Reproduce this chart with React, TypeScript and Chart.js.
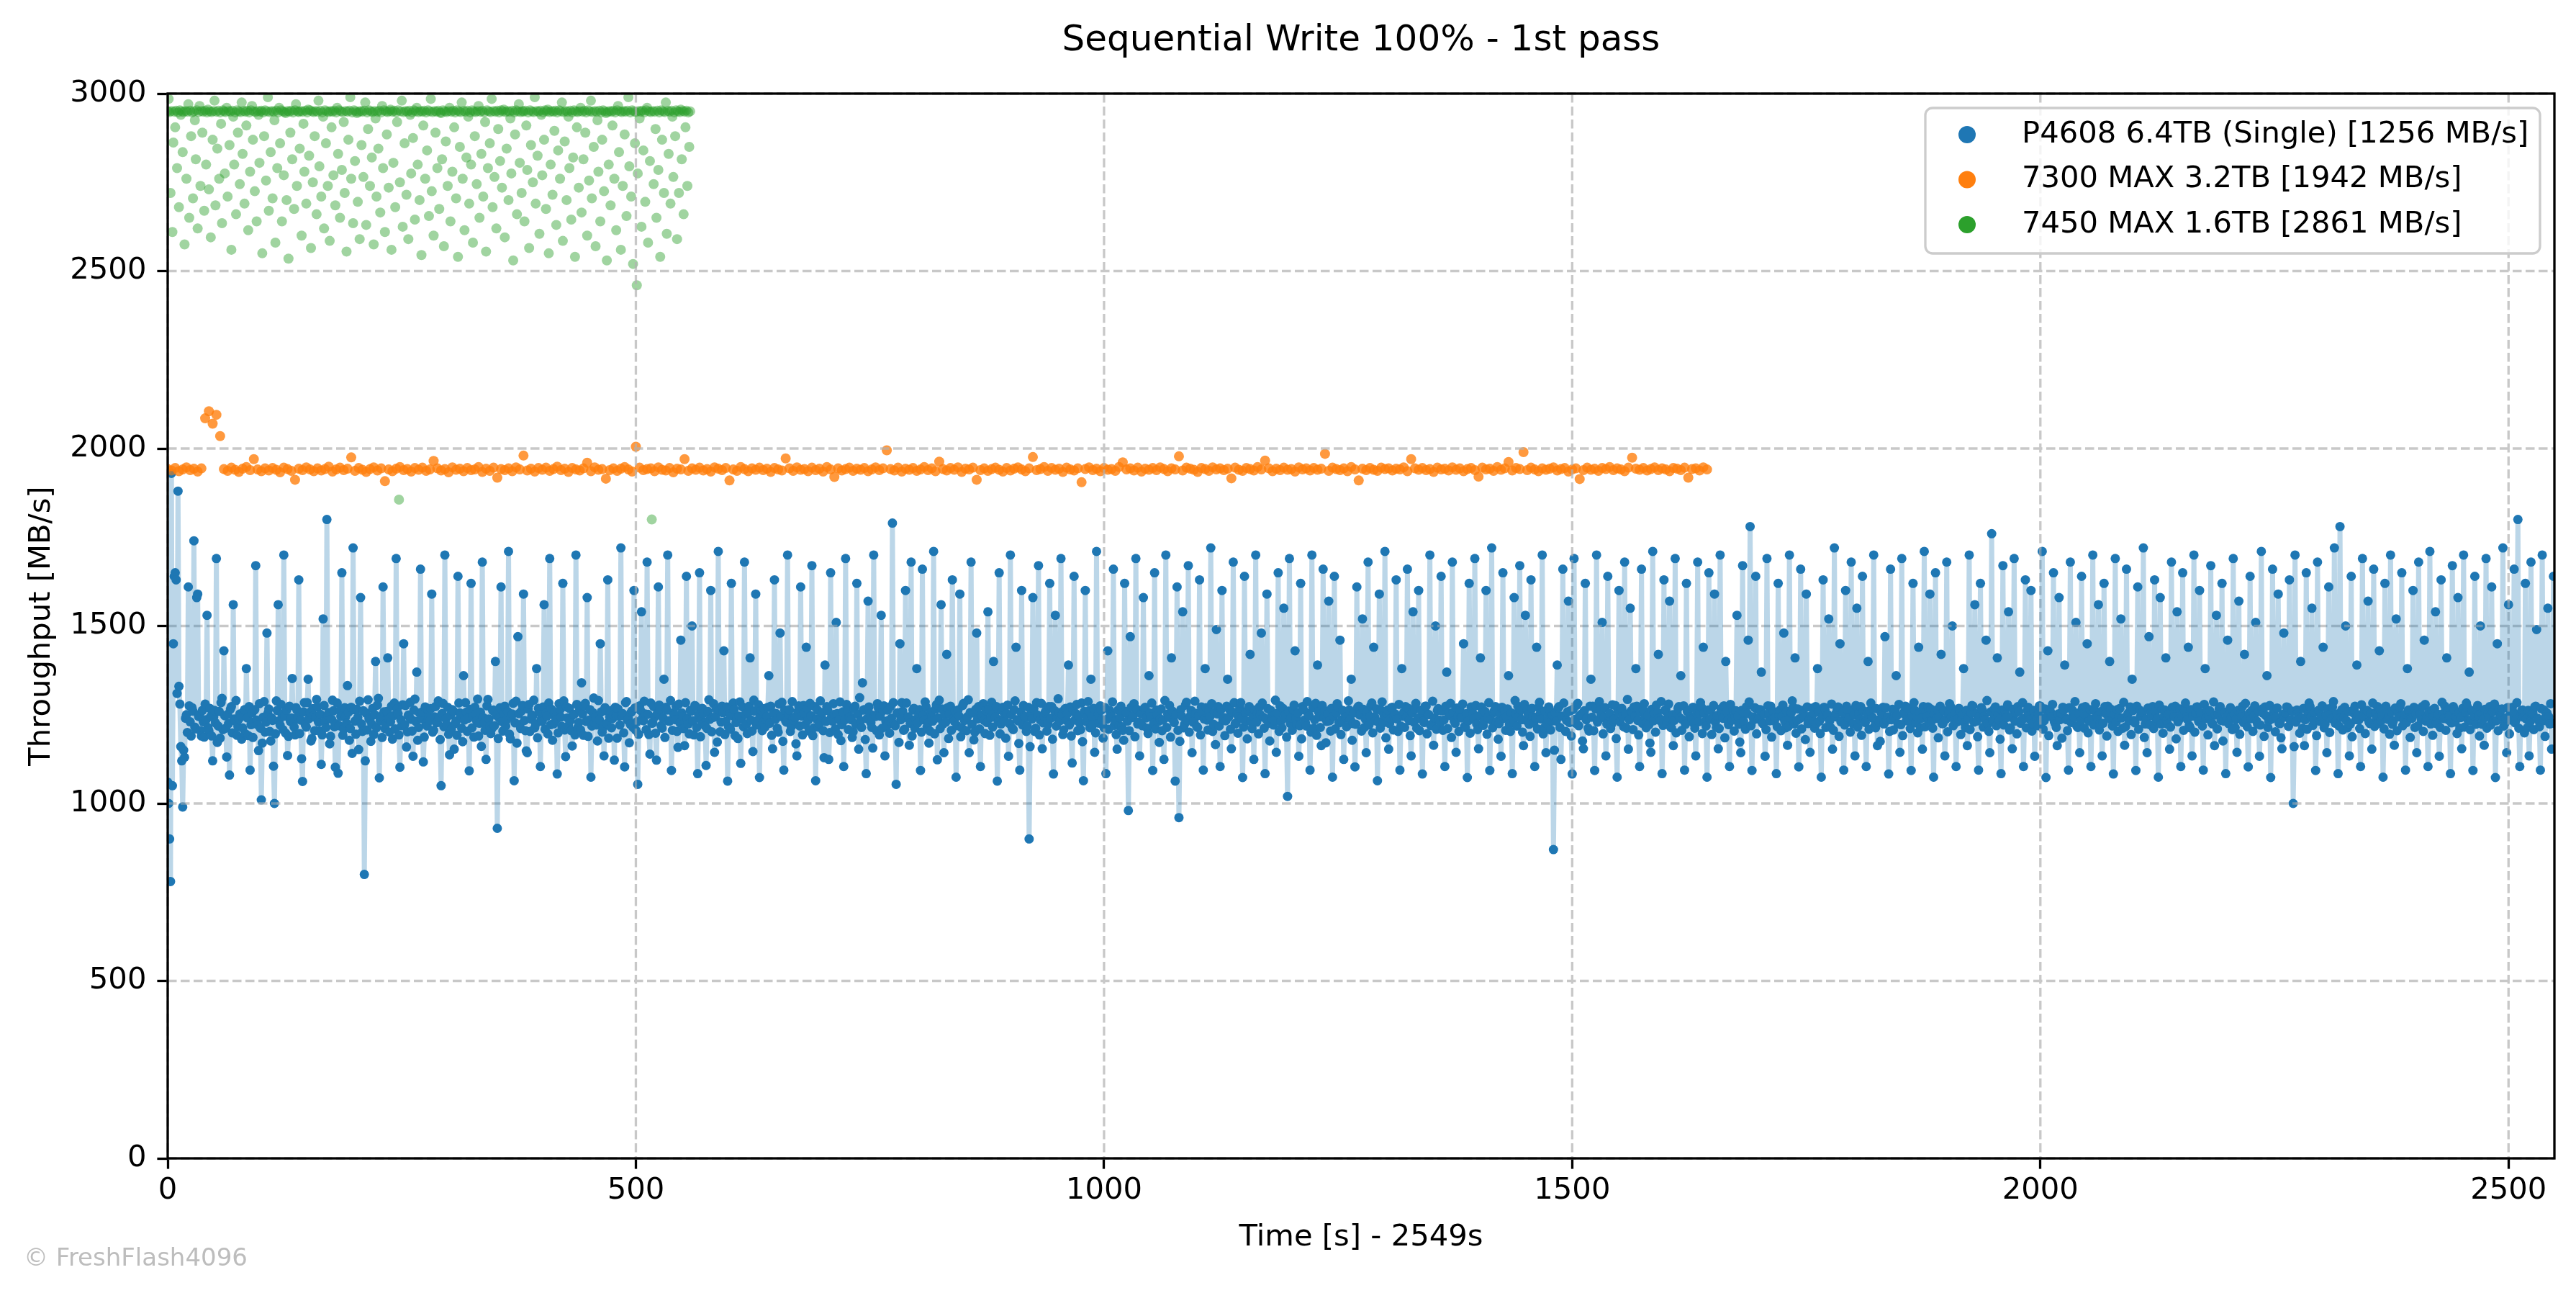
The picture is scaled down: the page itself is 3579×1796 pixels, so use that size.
import { useEffect, useRef } from 'react';
import { Chart, registerables } from 'chart.js';

Chart.register(...registerables);

const TITLE = 'Sequential Write 100% - 1st pass';
const X_LABEL = 'Time [s] - 2549s';
const Y_LABEL = 'Throughput [MB/s]';
const WATERMARK = '\u00a9 FreshFlash4096';

const X_MAX = 2549;
const Y_MAX = 3000;
const X_TICKS = [0, 500, 1000, 1500, 2000, 2500];
const Y_TICKS = [0, 500, 1000, 1500, 2000, 2500, 3000];

const SERIES_NAMES = [
  'P4608 6.4TB (Single) [1256 MB/s]',
  '7300 MAX 3.2TB [1942 MB/s]',
  '7450 MAX 1.6TB [2861 MB/s]',
];
const SERIES_COLORS = ['#1f77b4', '#ff7f0e', '#2ca02c'];

// P4608 6.4TB, one value per second (MB/s), 40 s per row
const P4608_STEP = 1;
const P4608_MBS = [
  1060,1000,900,780,1930,1050,1450,1640,1650,1630,1310,1880,1330,1280,1160,1120,990,1150,1130,1240,1250,1200,1610,1275,1230,1190,1270,1260,1740,1215,1210,1580,1590,1245,1250,1205,1190,1262,1230,1187,
  1280,1236,1530,1214,1205,1268,1245,1190,1120,1243,1262,1227,1690,1172,1218,1259,1184,1284,1296,1208,1430,1247,1212,1131,1251,1225,1080,1266,1273,1199,1560,1238,1233,1290,1192,1217,1238,1252,1247,1181,
  1213,1258,1264,1196,1380,1241,1191,1273,1094,1222,1255,1186,1229,1264,1670,1235,1222,1149,1281,1212,1010,1170,1243,1287,1201,1229,1480,1254,1266,1203,1176,1241,1234,1105,1000,1196,1289,1262,1560,1233,
  1221,1279,1252,1208,1700,1246,1198,1263,1135,1189,1274,1231,1241,1352,1227,1215,1193,1270,1263,1244,1630,1197,1235,1126,1062,1258,1284,1221,1215,1284,1350,1239,1257,1176,1183,1267,1248,1205,1242,1293,
  1272,1229,1204,1251,1110,1193,1520,1276,1231,1214,1800,1248,1256,1168,1189,1237,1291,1261,1216,1102,1224,1283,1085,1219,1261,1245,1650,1192,1209,1270,1244,1226,1332,1257,1178,1211,1271,1141,1720,1264,
  1232,1195,1265,1242,1152,1288,1580,1224,1203,1261,800,1120,1254,1207,1292,1239,1236,1175,1223,1268,1194,1250,1400,1213,1277,1296,1072,1233,1246,1186,1610,1258,1211,1224,1259,1410,1239,1201,1230,1274,
  1181,1247,1283,1210,1690,1266,1253,1193,1102,1236,1219,1278,1450,1222,1276,1159,1202,1249,1244,1285,1237,1204,1133,1263,1294,1231,1370,1178,1214,1255,1660,1240,1258,1117,1187,1272,1226,1218,1262,1243,
  1234,1267,1590,1201,1206,1244,1273,1228,1228,1289,1243,1180,1050,1253,1282,1216,1700,1238,1221,1271,1195,1137,1249,1209,1264,1260,1153,1225,1232,1192,1640,1283,1255,1246,1212,1174,1360,1235,1284,1257,
  1203,1240,1092,1265,1620,1213,1245,1187,1271,1252,1233,1294,1190,1226,1257,1161,1680,1242,1228,1206,1124,1275,1293,1238,1217,1197,1210,1262,1263,1219,1400,1248,930,1183,1241,1270,1610,1231,1204,1253,
  1274,1218,1236,1259,1710,1195,1182,1244,1252,1282,1064,1227,1288,1170,1470,1253,1222,1211,1261,1276,1590,1234,1205,1148,1143,1266,1279,1203,1238,1249,1247,1291,1213,1224,1380,1185,1268,1258,1104,1237,
  1231,1272,1560,1209,1254,1246,1196,1283,1690,1222,1265,1178,1224,1255,1242,1236,1083,1199,1281,1264,1243,1217,1620,1289,1207,1132,1272,1241,1219,1268,1234,1205,1162,1250,1251,1193,1700,1279,1214,1228,
  1263,1207,1340,1252,1192,1275,1282,1231,1580,1189,1235,1264,1074,1218,1256,1297,1225,1243,1221,1176,1290,1236,1450,1258,1201,1213,1134,1270,1262,1225,1630,1184,1244,1261,1213,1239,1248,1122,1271,1248,
  1184,1266,1246,1221,1720,1248,1253,1199,1103,1284,1287,1235,1239,1171,1223,1257,1261,1214,1600,1269,1206,1230,1054,1195,1275,1262,1540,1240,1233,1288,1252,1208,1680,1251,1194,1139,1283,1226,1227,1273,
  1244,1198,1122,1254,1610,1277,1264,1219,1212,1241,1350,1186,1271,1263,1700,1232,1232,1290,1093,1206,1255,1249,1236,1274,1203,1158,1280,1227,1460,1255,1245,1211,1163,1284,1640,1239,1224,1196,1262,1260,
  1500,1233,1193,1276,1273,1214,1084,1250,1650,1188,1235,1268,1254,1225,1218,1107,1211,1259,1292,1237,1600,1202,1242,1281,1144,1244,1266,1173,1710,1263,1202,1229,1274,1256,1430,1194,1231,1272,1063,1216,
  1252,1209,1620,1247,1283,1265,1191,1228,1240,1183,1246,1286,1113,1240,1272,1216,1680,1252,1223,1197,1256,1274,1410,1235,1204,1146,1291,1260,1590,1221,1234,1278,1073,1243,1262,1205,1229,1267,1215,1238,
  1245,1271,1360,1226,1274,1192,1154,1255,1630,1237,1253,1212,1201,1280,1480,1245,1285,1175,1094,1263,1232,1229,1700,1250,1264,1203,1216,1287,1241,1234,1243,1168,1134,1259,1275,1218,1610,1246,1193,1276,
  1254,1222,1440,1268,1235,1204,1282,1247,1670,1191,1213,1273,1064,1238,1263,1215,1225,1289,1244,1256,1205,1129,1390,1231,1273,1262,1124,1200,1650,1244,1232,1281,1251,1210,1510,1253,1194,1236,1286,1177,
  1222,1258,1104,1235,1690,1279,1261,1208,1243,1244,1236,1186,1202,1267,1274,1223,1620,1251,1153,1298,1233,1214,1340,1263,1264,1180,1084,1239,1570,1272,1252,1227,1214,1156,1700,1248,1245,1205,1281,1269,
  1193,1246,1530,1212,1262,1275,1134,1231,1218,1263,1234,1198,1273,1240,1790,1284,1223,1219,1054,1255,1255,1172,1450,1236,1284,1260,1206,1209,1600,1283,1241,1244,1164,1226,1680,1190,1263,1268,1212,1237,
  1380,1227,1254,1264,1093,1201,1660,1249,1235,1286,1272,1215,1226,1170,1204,1257,1243,1232,1710,1196,1265,1278,1123,1241,1291,1211,1560,1266,1224,1143,1251,1229,1420,1270,1183,1252,1274,1206,1630,1239,
  1232,1261,1074,1219,1263,1247,1590,1188,1213,1276,1282,1234,1237,1205,1244,1292,1143,1256,1680,1223,1255,1179,1201,1265,1480,1238,1273,1210,1104,1249,1245,1281,1234,1197,1262,1228,1540,1266,1192,1242,
  1285,1215,1400,1254,1243,1273,1063,1230,1650,1196,1224,1262,1271,1241,1231,1184,1253,1277,1133,1225,1700,1250,1212,1208,1264,1289,1440,1236,1233,1169,1094,1258,1600,1221,1276,1246,1242,1203,1218,1271,
  900,1160,1252,1238,1580,1267,1203,1212,1284,1249,1670,1193,1235,1282,1154,1227,1246,1256,1261,1204,1224,1273,1620,1240,1273,1181,1083,1262,1530,1218,1241,1295,1256,1233,1690,1250,1194,1207,1265,1268,
  1234,1253,1390,1221,1272,1190,1114,1264,1640,1235,1253,1279,1205,1246,1227,1208,1283,1174,1064,1259,1600,1231,1243,1287,1261,1213,1350,1245,1222,1268,1144,1199,1710,1240,1254,1226,1275,1263,1236,1184,
  1213,1270,1084,1237,1430,1209,1262,1251,1245,1286,1660,1220,1233,1194,1153,1263,1219,1242,1274,1216,1206,1178,1620,1259,1255,1232,980,1205,1470,1271,1242,1247,1281,1188,1690,1265,1224,1229,1134,1254,
  1253,1219,1580,1268,1271,1241,1212,1197,1360,1255,1244,1283,1093,1226,1650,1210,1263,1249,1231,1172,1238,1266,1205,1235,1124,1290,1700,1214,1252,1243,1276,1187,1410,1260,1234,1228,1063,1251,1610,1206,
  960,1175,1264,1246,1540,1213,1223,1277,1285,1234,1670,1201,1246,1262,1143,1229,1232,1288,1254,1217,1214,1248,1630,1193,1272,1256,1094,1238,1380,1270,1235,1207,1261,1244,1720,1281,1203,1223,1257,1166,
  1490,1252,1273,1218,1104,1265,1600,1236,1242,1191,1233,1274,1350,1243,1265,1209,1154,1258,1680,1284,1224,1227,1251,1198,1246,1269,1284,1240,1073,1215,1640,1256,1232,1182,1263,1273,1420,1231,1211,1247,
  1124,1263,1700,1229,1254,1196,1272,1250,1480,1283,1243,1212,1084,1238,1590,1267,1226,1176,1262,1245,1237,1221,1234,1291,1144,1254,1650,1203,1275,1232,1213,1268,1550,1241,1252,1187,1020,1260,1690,1225,
  1241,1206,1264,1277,1430,1239,1222,1255,1133,1219,1620,1182,1273,1264,1235,1228,1218,1287,1253,1247,1094,1201,1700,1270,1212,1236,1282,1192,1390,1259,1244,1214,1163,1276,1660,1242,1261,1171,1231,1253,
  1570,1233,1204,1268,1074,1245,1640,1210,1255,1281,1272,1227,1460,1194,1236,1262,1124,1240,1243,1216,1247,1289,1263,1237,1350,1178,1225,1256,1103,1223,1610,1271,1274,1249,1252,1204,1520,1265,1214,1238,
  1143,1257,1680,1221,1245,1275,1283,1199,1440,1244,1233,1266,1064,1230,1590,1212,1262,1286,1227,1248,1710,1185,1254,1263,1153,1225,1239,1270,1271,1207,1242,1252,1630,1238,1203,1279,1094,1218,1380,1246,
  1256,1214,1273,1243,1660,1268,1234,1191,1134,1256,1540,1229,1265,1282,1212,1240,1600,1205,1243,1263,1083,1232,1228,1274,1274,1196,1251,1250,1700,1219,1223,1288,1164,1241,1500,1209,1262,1267,1235,1227,
  1640,1261,1206,1235,1104,1274,1370,1211,1254,1248,1282,1186,1680,1257,1233,1226,1144,1269,1245,1203,1263,1242,1241,1280,1450,1217,1214,1253,1073,1233,1620,1198,1272,1264,1253,1239,1690,1276,1224,1208,
  1154,1247,1410,1272,1265,1220,1234,1259,1600,1195,1242,1284,1093,1236,1720,1213,1256,1262,1273,1229,1231,1181,1225,1250,1133,1271,1650,1240,1261,1206,1244,1266,1360,1223,1203,1255,1084,1237,1580,1290,
  1252,1218,1274,1245,1670,1263,1236,1201,1163,1279,1530,1234,1264,1252,1223,1189,1630,1268,1245,1227,1104,1241,1440,1210,1271,1285,1254,1238,1700,1196,1213,1260,1143,1224,1237,1272,1262,1207,1232,1249,
  870,1150,1255,1232,1390,1269,1273,1214,1124,1246,1660,1283,1243,1203,1234,1258,1570,1228,1261,1190,1083,1265,1690,1237,1226,1277,1282,1219,1247,1249,1252,1176,1154,1261,1620,1236,1241,1212,1204,1274,
  1350,1243,1274,1205,1093,1266,1700,1229,1235,1287,1263,1251,1510,1196,1242,1270,1134,1224,1640,1247,1254,1211,1223,1278,1233,1239,1276,1183,1074,1259,1600,1230,1265,1268,1245,1216,1680,1252,1212,1293,
  1153,1236,1550,1261,1256,1208,1272,1245,1380,1274,1234,1193,1104,1257,1660,1226,1263,1281,1243,1213,1229,1248,1222,1170,1144,1265,1710,1233,1254,1201,1277,1256,1420,1240,1233,1287,1084,1220,1630,1262,
  1264,1227,1242,1280,1570,1215,1213,1250,1163,1234,1690,1199,1255,1268,1273,1241,1360,1206,1236,1275,1094,1223,1620,1259,1262,1188,1244,1244,1238,1271,1225,1212,1134,1253,1680,1230,1253,1284,1271,1197,
  1440,1255,1232,1218,1074,1263,1650,1237,1264,1194,1243,1276,1590,1229,1214,1248,1154,1211,1700,1267,1256,1240,1275,1185,1400,1258,1234,1222,1104,1279,1240,1235,1263,1204,1245,1261,1530,1246,1223,1173,
  1143,1262,1670,1231,1254,1209,1272,1253,1460,1286,1780,1219,1093,1244,1236,1270,1640,1196,1265,1238,1242,1264,1370,1227,1224,1251,1133,1208,1690,1275,1253,1233,1274,1187,1236,1259,1232,1242,1084,1216,
  1620,1248,1263,1205,1245,1277,1480,1232,1213,1260,1164,1217,1700,1241,1256,1289,1271,1224,1410,1198,1234,1266,1103,1239,1660,1210,1262,1253,1243,1180,1590,1272,1225,1235,1144,1247,1238,1269,1254,1212,
  1273,1226,1380,1258,1232,1197,1074,1243,1630,1271,1264,1214,1246,1250,1520,1233,1214,1280,1153,1206,1720,1244,1255,1265,1272,1189,1450,1230,1233,1256,1094,1221,1600,1274,1263,1238,1242,1201,1680,1262,
  1224,1249,1134,1276,1550,1215,1254,1237,1273,1192,1640,1261,1235,1228,1104,1254,1400,1209,1262,1283,1244,1240,1700,1218,1213,1267,1163,1235,1228,1175,1256,1252,1271,1224,1470,1270,1234,1244,1083,1203,
  1660,1236,1265,1207,1243,1263,1360,1248,1224,1279,1144,1222,1690,1191,1253,1259,1274,1233,1237,1268,1232,1211,1093,1246,1620,1284,1262,1227,1245,1199,1440,1257,1214,1240,1153,1273,1710,1216,1256,1245,
  1272,1230,1590,1266,1233,1212,1074,1251,1650,1240,1264,1185,1243,1274,1420,1225,1225,1261,1134,1237,1680,1202,1254,1281,1273,1243,1500,1219,1236,1256,1104,1230,1239,1268,1262,1194,1244,1250,1380,1227,
  1213,1262,1163,1241,1700,1208,1255,1276,1274,1229,1560,1253,1232,1188,1094,1245,1620,1270,1263,1215,1245,1236,1460,1290,1224,1203,1143,1258,1760,1234,1253,1267,1272,1219,1410,1248,1234,1181,1084,1263,
  1670,1221,1264,1250,1242,1278,1540,1207,1213,1243,1154,1265,1690,1232,1256,1196,1273,1259,1370,1226,1235,1284,1104,1240,1630,1213,1262,1271,1246,1237,1600,1204,1225,1262,1133,1247,1238,1219,1254,1275,
  1274,1238,1710,1209,1233,1266,1073,1245,1430,1191,1265,1257,1244,1279,1650,1230,1224,1214,1163,1252,1580,1236,1255,1184,1271,1263,1390,1240,1236,1205,1094,1270,1680,1228,1263,1249,1242,1287,1510,1217,
  1214,1255,1143,1232,1640,1270,1254,1212,1273,1247,1450,1199,1232,1264,1104,1238,1700,1221,1262,1281,1245,1243,1560,1207,1223,1259,1134,1226,1620,1273,1253,1190,1274,1242,1400,1266,1235,1218,1083,1251,
  1690,1229,1264,1203,1243,1268,1520,1241,1212,1285,1164,1216,1660,1250,1255,1233,1272,1194,1350,1262,1234,1227,1093,1274,1610,1209,1263,1245,1246,1257,1720,1186,1224,1238,1143,1269,1470,1222,1256,1248,
  1273,1211,1630,1259,1232,1240,1074,1277,1580,1224,1265,1198,1244,1263,1410,1235,1223,1252,1153,1215,1680,1271,1254,1244,1274,1182,1540,1230,1236,1266,1104,1248,1650,1206,1262,1283,1243,1237,1440,1219,
  1213,1264,1134,1246,1700,1201,1255,1272,1272,1231,1600,1255,1234,1218,1094,1279,1380,1240,1263,1193,1245,1261,1670,1227,1224,1286,1163,1249,1530,1210,1253,1268,1273,1234,1620,1176,1232,1257,1084,1242,
  1460,1225,1264,1270,1242,1208,1690,1251,1214,1237,1144,1262,1570,1195,1256,1243,1274,1228,1420,1282,1235,1216,1103,1254,1640,1239,1262,1203,1246,1275,1510,1232,1223,1259,1133,1221,1710,1266,1254,1189,
  1272,1247,1360,1214,1233,1276,1073,1238,1660,1258,1265,1202,1243,1269,1590,1226,1225,1185,1154,1251,1480,1243,1255,1272,1271,1217,1630,1235,1236,1260,1000,1160,1700,1229,1263,1254,1244,1198,1400,1241,
  1212,1268,1163,1236,1650,1209,1254,1283,1273,1244,1550,1220,1234,1257,1093,1191,1680,1262,1262,1231,1245,1275,1440,1213,1224,1248,1143,1266,1610,1200,1253,1239,1272,1287,1720,1226,1232,1252,1084,1218,
  1780,1243,1264,1207,1242,1271,1500,1233,1213,1259,1134,1224,1640,1188,1256,1265,1274,1236,1390,1250,1235,1211,1104,1278,1690,1245,1262,1197,1243,1262,1570,1229,1225,1255,1153,1283,1660,1217,1254,1240,
  1273,1226,1430,1264,1233,1248,1074,1210,1620,1274,1265,1237,1244,1195,1700,1258,1223,1232,1164,1269,1520,1205,1255,1244,1272,1281,1650,1219,1236,1250,1094,1228,1380,1263,1263,1186,1242,1240,1600,1271,
  1214,1252,1143,1218,1680,1266,1254,1235,1273,1203,1460,1279,1232,1241,1104,1257,1710,1224,1262,1192,1245,1268,1540,1230,1224,1251,1133,1214,1630,1285,1253,1239,1274,1206,1410,1262,1235,1247,1084,1227,
  1670,1273,1264,1229,1243,1197,1580,1256,1212,1242,1154,1268,1700,1215,1256,1283,1272,1234,1370,1208,1234,1261,1093,1247,1640,1223,1263,1276,1246,1190,1500,1254,1223,1238,1164,1265,1690,1212,1255,1243,
  1273,1221,1610,1258,1232,1280,1073,1233,1450,1205,1265,1249,1244,1266,1720,1218,1225,1241,1143,1270,1560,1196,1254,1235,1271,1257,1660,1227,1236,1284,1800,1212,1104,1246,1262,1263,1243,1199,1620,1238,
  1213,1262,1134,1229,1680,1251,1255,1208,1272,1274,1490,1240,1234,1216,1094,1267,1700,1233,1263,1189,1245,1255,1550,1244,1224,1281,1153,1226,1640,
];

// 7300 MAX 3.2TB, one value every 4 s (MB/s)
const MAX7300_STEP = 4;
const MAX7300_MBS = [
  1942, 1938, 1945, 1936, 1941, 1947, 1939, 1943, 1935, 1944, 2085, 2105, 2070, 2095, 2035, 1942, 1937, 1946, 1940, 1934,
  1943, 1948, 1939, 1970, 1941, 1936, 1944, 1938, 1945, 1940, 1933, 1946, 1942, 1937, 1912, 1943, 1939, 1947, 1941, 1936,
  1944, 1938, 1942, 1949, 1935, 1941, 1946, 1939, 1943, 1975, 1937, 1945, 1940, 1934, 1942, 1947, 1938, 1944, 1908, 1941,
  1936, 1943, 1948, 1939, 1942, 1935, 1945, 1940, 1946, 1937, 1941, 1965, 1944, 1938, 1942, 1933, 1947, 1940, 1943, 1936,
  1945, 1939, 1941, 1948, 1934, 1943, 1937, 1946, 1918, 1942, 1939, 1944, 1936, 1947, 1941, 1980, 1938, 1943, 1935, 1945,
  1940, 1946, 1937, 1942, 1949, 1939, 1943, 1934, 1945, 1941, 1938, 1944, 1960, 1936, 1947, 1940, 1942, 1915, 1939, 1944,
  1937, 1943, 1948, 1941, 1935, 2005, 1946, 1939, 1942, 1944, 1936, 1947, 1940, 1938, 1945, 1933, 1943, 1941, 1970, 1937,
  1944, 1940, 1946, 1938, 1942, 1935, 1947, 1943, 1939, 1945, 1910, 1941, 1937, 1948, 1942, 1936, 1944, 1940, 1946, 1939,
  1943, 1934, 1945, 1941, 1938, 1972, 1944, 1937, 1947, 1940, 1942, 1936, 1946, 1939, 1943, 1935, 1948, 1941, 1920, 1944,
  1938, 1942, 1946, 1937, 1943, 1940, 1945, 1936, 1941, 1947, 1939, 1944, 1995, 1942, 1938, 1946, 1935, 1943, 1940, 1945,
  1937, 1941, 1948, 1939, 1944, 1936, 1963, 1942, 1938, 1945, 1940, 1947, 1934, 1943, 1941, 1946, 1912, 1939, 1944, 1937,
  1942, 1946, 1940, 1935, 1945, 1938, 1943, 1947, 1941, 1936, 1944, 1976, 1939, 1942, 1948, 1937, 1945, 1940, 1943, 1934,
  1946, 1941, 1938, 1944, 1905, 1942, 1947, 1939, 1943, 1936, 1945, 1940, 1942, 1937, 1948, 1961, 1941, 1944, 1938, 1946,
  1935, 1943, 1940, 1945, 1939, 1947, 1942, 1936, 1944, 1941, 1978, 1938, 1946, 1943, 1940, 1934, 1945, 1942, 1937, 1947,
  1941, 1944, 1939, 1943, 1916, 1946, 1940, 1937, 1945, 1942, 1938, 1948, 1941, 1966, 1944, 1936, 1943, 1939, 1946, 1940,
  1942, 1935, 1947, 1941, 1944, 1938, 1945, 1940, 1943, 1985, 1937, 1946, 1942, 1939, 1944, 1936, 1948, 1941, 1910, 1943,
  1939, 1945, 1940, 1937, 1946, 1942, 1944, 1938, 1943, 1941, 1947, 1936, 1970, 1944, 1940, 1945, 1939, 1942, 1934, 1946,
  1941, 1943, 1938, 1947, 1940, 1944, 1936, 1942, 1945, 1939, 1921, 1946, 1941, 1943, 1937, 1948, 1940, 1944, 1962, 1938,
  1945, 1942, 1990, 1939, 1946, 1941, 1936, 1944, 1940, 1943, 1947, 1938, 1942, 1945, 1935, 1941, 1944, 1914, 1939, 1946,
  1940, 1943, 1937, 1945, 1942, 1948, 1939, 1944, 1941, 1936, 1946, 1974, 1943, 1940, 1945, 1938, 1942, 1947, 1939, 1944,
  1941, 1936, 1945, 1943, 1939, 1946, 1918, 1942, 1944, 1938, 1947, 1941,
];

// 7450 MAX 1.6TB, one value per second (MB/s)
const MAX7450_STEP = 1;
const MAX7450_MBS = [
  2950, 2985, 2948, 2720, 2951, 2610, 2862, 2949, 2905, 2952, 2790, 2947, 2680, 2953, 2940, 2950, 2835, 2948, 2575, 2951,
  2760, 2949, 2970, 2650, 2952, 2880, 2947, 2705, 2950, 2925, 2815, 2953, 2620, 2948, 2965, 2740, 2951, 2890, 2949, 2670,
  2952, 2800, 2947, 2955, 2730, 2950, 2595, 2948, 2870, 2951, 2980, 2685, 2949, 2845, 2952, 2760, 2947, 2915, 2635, 2953,
  2950, 2775, 2948, 2960, 2710, 2951, 2855, 2949, 2560, 2952, 2935, 2800, 2947, 2660, 2953, 2890, 2950, 2745, 2948, 2975,
  2830, 2951, 2690, 2949, 2910, 2952, 2615, 2947, 2780, 2953, 2965, 2870, 2950, 2725, 2948, 2640, 2951, 2940, 2805, 2949,
  2952, 2550, 2947, 2880, 2953, 2755, 2950, 2990, 2670, 2948, 2835, 2951, 2705, 2949, 2925, 2580, 2952, 2790, 2947, 2960,
  2860, 2953, 2640, 2950, 2770, 2948, 2945, 2700, 2951, 2535, 2949, 2890, 2952, 2815, 2947, 2675, 2953, 2970, 2740, 2950,
  2948, 2845, 2951, 2600, 2949, 2915, 2780, 2952, 2690, 2947, 2955, 2825, 2953, 2565, 2950, 2750, 2948, 2880, 2951, 2660,
  2949, 2980, 2795, 2952, 2710, 2947, 2935, 2620, 2953, 2860, 2950, 2740, 2948, 2585, 2951, 2905, 2949, 2770, 2952, 2685,
  2947, 2960, 2830, 2953, 2650, 2950, 2785, 2948, 2920, 2720, 2951, 2555, 2949, 2870, 2952, 2990, 2760, 2947, 2635, 2953,
  2810, 2950, 2945, 2695, 2948, 2590, 2951, 2855, 2949, 2765, 2952, 2975, 2630, 2947, 2900, 2953, 2740, 2950, 2820, 2948,
  2575, 2951, 2930, 2710, 2949, 2845, 2952, 2665, 2947, 2965, 2790, 2953, 2610, 2950, 2885, 2948, 2735, 2951, 2955, 2560,
  2949, 2805, 2952, 2680, 2947, 2920, 2953, 1856, 2750, 2950, 2980, 2625, 2948, 2860, 2951, 2715, 2949, 2590, 2952, 2940,
  2775, 2947, 2875, 2953, 2645, 2950, 2960, 2800, 2948, 2700, 2951, 2545, 2949, 2910, 2952, 2760, 2947, 2840, 2953, 2655,
  2950, 2985, 2725, 2948, 2600, 2951, 2890, 2949, 2790, 2952, 2675, 2947, 2945, 2815, 2953, 2570, 2950, 2865, 2948, 2740,
  2951, 2960, 2640, 2949, 2780, 2952, 2905, 2947, 2705, 2953, 2540, 2950, 2850, 2948, 2975, 2760, 2951, 2615, 2949, 2820,
  2952, 2935, 2690, 2947, 2800, 2953, 2580, 2950, 2880, 2948, 2745, 2951, 2965, 2650, 2949, 2830, 2952, 2710, 2947, 2920,
  2555, 2953, 2790, 2950, 2860, 2948, 2985, 2680, 2951, 2765, 2949, 2620, 2952, 2900, 2947, 2810, 2953, 2735, 2950, 2955,
  2595, 2948, 2845, 2951, 2700, 2949, 2930, 2775, 2952, 2530, 2947, 2885, 2953, 2660, 2950, 2970, 2805, 2948, 2720, 2951,
  2949, 2640, 2952, 2910, 2785, 2947, 2565, 2953, 2855, 2950, 2750, 2948, 2990, 2690, 2951, 2825, 2949, 2605, 2952, 2940,
  2770, 2947, 2870, 2953, 2675, 2950, 2955, 2550, 2948, 2800, 2951, 2715, 2949, 2895, 2952, 2630, 2947, 2840, 2953, 2760,
  2950, 2975, 2585, 2948, 2865, 2951, 2700, 2949, 2935, 2790, 2952, 2645, 2947, 2820, 2953, 2540, 2950, 2905, 2948, 2735,
  2951, 2960, 2665, 2949, 2815, 2952, 2890, 2947, 2600, 2953, 2755, 2950, 2980, 2705, 2948, 2850, 2951, 2570, 2949, 2925,
  2780, 2952, 2640, 2947, 2870, 2953, 2725, 2950, 2945, 2530, 2948, 2800, 2951, 2685, 2949, 2910, 2952, 2760, 2947, 2615,
  2953, 2965, 2835, 2950, 2560, 2948, 2740, 2951, 2885, 2949, 2655, 2952, 2990, 2795, 2947, 2710, 2953, 2520, 2950, 2860,
  2948, 2460, 2775, 2951, 2930, 2949, 2625, 2952, 2840, 2947, 2695, 2953, 2960, 2580, 2950, 2810, 2948, 1800, 2951, 2745,
  2949, 2900, 2650, 2952, 2785, 2947, 2540, 2953, 2870, 2950, 2720, 2948, 2975, 2605, 2951, 2830, 2949, 2690, 2952, 2935,
  2765, 2947, 2880, 2953, 2590, 2950, 2720, 2948, 2955, 2815, 2951, 2660, 2949, 2905, 2952, 2740, 2947, 2850, 2950,
];

const WIDTH = 3579;
const HEIGHT = 1796;
const FONT = "'DejaVu Sans', sans-serif";

function toPoints(values: number[], step: number) {
  return values.map((y, i) => ({ x: i * step, y }));
}

const decorations = {
  id: 'decorations',
  // grid sits above the scatter dots but under the connecting line, like matplotlib
  beforeDatasetDraw(chart: any, args: any) {
    if (args.index !== 0) return;
    const { ctx, chartArea: a, scales } = chart;
    ctx.save();
    ctx.strokeStyle = 'rgba(176,176,176,0.7)';
    ctx.lineWidth = 3.3;
    ctx.setLineDash([12.5, 5.5]);
    ctx.beginPath();
    for (const v of X_TICKS) {
      const px = scales.x.getPixelForValue(v);
      ctx.moveTo(px, a.top);
      ctx.lineTo(px, a.bottom);
    }
    for (const v of Y_TICKS) {
      const py = scales.y.getPixelForValue(v);
      ctx.moveTo(a.left, py);
      ctx.lineTo(a.right, py);
    }
    ctx.stroke();
    ctx.restore();
  },
  afterDraw(chart: any) {
    const { ctx, chartArea: a } = chart;
    const cx = (a.left + a.right) / 2;
    ctx.save();

    // spines
    ctx.strokeStyle = '#000';
    ctx.lineWidth = 3.3;
    ctx.strokeRect(a.left, a.top, a.right - a.left, a.bottom - a.top);

    // title and axis labels
    ctx.fillStyle = '#000';
    ctx.textAlign = 'center';
    ctx.textBaseline = 'alphabetic';
    ctx.font = `50px ${FONT}`;
    ctx.fillText(TITLE, cx, 70);
    ctx.font = `41.7px ${FONT}`;
    ctx.fillText(X_LABEL, cx, 1730);
    ctx.save();
    ctx.translate(58, (a.top + a.bottom) / 2);
    ctx.rotate(-Math.PI / 2);
    ctx.textBaseline = 'middle';
    ctx.fillText(Y_LABEL, 0, 0);
    ctx.restore();

    // legend
    const box = { x: 2675, y: 150, w: 854, h: 202 };
    ctx.beginPath();
    ctx.roundRect(box.x, box.y, box.w, box.h, 10);
    ctx.fillStyle = 'rgba(255,255,255,0.8)';
    ctx.fill();
    ctx.strokeStyle = '#cccccc';
    ctx.lineWidth = 3.3;
    ctx.stroke();
    ctx.textAlign = 'left';
    ctx.textBaseline = 'middle';
    ctx.font = `41.7px ${FONT}`;
    SERIES_NAMES.forEach((name, i) => {
      const ry = 187 + i * 62.5;
      ctx.beginPath();
      ctx.arc(2733, ry, 12, 0, Math.PI * 2);
      ctx.fillStyle = SERIES_COLORS[i];
      ctx.fill();
      ctx.fillStyle = '#000';
      ctx.fillText(name, 2809, ry);
    });

    // watermark
    ctx.fillStyle = '#bdbdbd';
    ctx.font = `34px ${FONT}`;
    ctx.textBaseline = 'alphabetic';
    ctx.fillText(WATERMARK, 33, 1758);
    ctx.restore();
  },
};

export default function App() {
  const canvasRef = useRef<HTMLCanvasElement>(null);

  useEffect(() => {
    document.body.style.margin = '0';
    if (!canvasRef.current) return;

    const blue = toPoints(P4608_MBS, P4608_STEP);
    const orange = toPoints(MAX7300_MBS, MAX7300_STEP);
    const green = toPoints(MAX7450_MBS, MAX7450_STEP);

    const tickFont = { family: FONT, size: 41.7 };
    const axisGrid = {
      drawOnChartArea: false,
      color: 'rgba(0,0,0,0)',
      tickLength: 14.6,
      tickWidth: 3.3,
      tickColor: '#000',
    };

    const chart = new Chart(canvasRef.current, {
      type: 'scatter',
      data: {
        datasets: [
          {
            label: SERIES_NAMES[0] + ' line',
            data: blue,
            showLine: true,
            borderColor: 'rgba(31,119,180,0.3)',
            borderWidth: 7,
            borderJoinStyle: 'round',
            pointRadius: 0,
            order: 0,
          },
          {
            label: SERIES_NAMES[2],
            data: green,
            pointRadius: 7,
            pointBorderWidth: 0,
            pointBackgroundColor: 'rgba(44,160,44,0.45)',
            order: 1,
          },
          {
            label: SERIES_NAMES[1],
            data: orange,
            pointRadius: 7,
            pointBorderWidth: 0,
            pointBackgroundColor: 'rgba(255,127,14,0.8)',
            order: 2,
          },
          {
            label: SERIES_NAMES[0],
            data: blue,
            pointRadius: 6.5,
            pointBorderWidth: 0,
            pointBackgroundColor: SERIES_COLORS[0],
            order: 3,
          },
        ],
      } as any,
      options: {
        responsive: false,
        devicePixelRatio: 1,
        animation: false,
        events: [],
        layout: { padding: { top: 130, right: 30, left: 0, bottom: 0 } },
        plugins: {
          legend: { display: false },
          title: { display: false },
          tooltip: { enabled: false },
        },
        scales: {
          x: {
            type: 'linear',
            min: 0,
            max: X_MAX,
            grid: axisGrid,
            border: { display: false },
            ticks: {
              font: tickFont,
              color: '#000',
              padding: 6,
              maxRotation: 0,
              autoSkip: false,
              includeBounds: false,
              callback: (v: any) => String(v),
            },
            afterBuildTicks: (scale: any) => {
              scale.ticks = X_TICKS.map((value) => ({ value }));
            },
            afterFit: (scale: any) => {
              scale.height = 187;
            },
          },
          y: {
            type: 'linear',
            min: 0,
            max: Y_MAX,
            grid: axisGrid,
            border: { display: false },
            ticks: {
              font: tickFont,
              color: '#000',
              padding: 15,
              autoSkip: false,
              callback: (v: any) => String(v),
            },
            afterBuildTicks: (scale: any) => {
              scale.ticks = Y_TICKS.map((value) => ({ value }));
            },
            afterFit: (scale: any) => {
              scale.width = 233;
            },
          },
        },
      },
      plugins: [decorations],
    });

    return () => {
      chart.destroy();
    };
  }, []);

  return (
    <div style={{ width: WIDTH, height: HEIGHT, background: '#fff' }}>
      <canvas ref={canvasRef} width={WIDTH} height={HEIGHT} style={{ display: 'block' }} />
    </div>
  );
}
